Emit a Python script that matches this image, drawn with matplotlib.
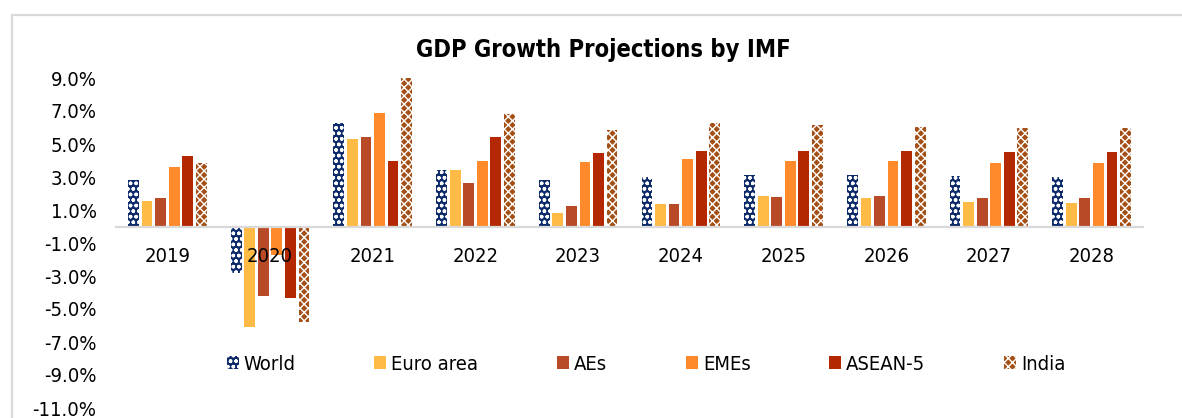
import numpy as np
import matplotlib.pyplot as plt
from matplotlib.lines import Line2D

# GDP growth (%)
years = ['2019', '2020', '2021', '2022', '2023', '2024', '2025', '2026', '2027', '2028']
world = [2.8, -2.8, 6.25, 3.4, 2.8, 3.0, 3.15, 3.15, 3.05, 3.0]
euro_area = [1.55, -6.1, 5.3, 3.45, 0.8, 1.35, 1.85, 1.7, 1.5, 1.4]
aes = [1.75, -4.2, 5.4, 2.65, 1.25, 1.35, 1.8, 1.85, 1.75, 1.75]
emes = [3.6, -1.75, 6.85, 3.95, 3.9, 4.1, 4.0, 3.95, 3.85, 3.85]
asean5 = [4.25, -4.35, 3.95, 5.45, 4.45, 4.6, 4.55, 4.55, 4.5, 4.5]
india = [3.85, -5.8, 9.0, 6.8, 5.85, 6.3, 6.15, 6.05, 5.95, 6.0]

series_names = ['World', 'Euro area', 'AEs', 'EMEs', 'ASEAN-5', 'India']
y_ticks = [-11, -9, -7, -5, -3, -1, 1, 3, 5, 7, 9]

plt.rcParams['font.family'] = ['DejaVu Sans']
plt.rcParams['font.stretch'] = 'condensed'
plt.rcParams['hatch.linewidth'] = 1.0

FS = 14.5

fig = plt.figure(figsize=(11.82, 4.18), dpi=100)
ax = fig.add_axes([116 / 1182, 10 / 418, 1027 / 1182, 346.5 / 418])

x = np.arange(len(years))
slot = 0.132
width = 0.105

# colours and fills for each series
styles = [
    dict(color='#0D2B6B', hatch='ooo'),
    dict(color='#FFBB45', hatch=None),
    dict(color='#B84A28', hatch=None),
    dict(color='#FF8A2B', hatch=None),
    dict(color='#B32800', hatch=None),
    dict(color='#A34F16', hatch='xxxx'),
]
data = [world, euro_area, aes, emes, asean5, india]

handles = []
for k, (vals, st) in enumerate(zip(data, styles)):
    bars = ax.bar(x + (k - 2.5) * slot, vals, width, color=st['color'],
                  hatch=st['hatch'], edgecolor='white', linewidth=0,
                  label=series_names[k], zorder=1)
    handles.append(bars)

ax.set_xlim(-0.5, len(years) - 0.5)
ax.set_ylim(-11, 10)
# year labels sit on top of the bars, like in the original
ax.set_axisbelow(False)

for s in ['top', 'right', 'left']:
    ax.spines[s].set_visible(False)
ax.spines['bottom'].set_position(('data', 0))
ax.spines['bottom'].set_color('#D9D9D9')
ax.spines['bottom'].set_linewidth(1.6)
ax.spines['bottom'].set_zorder(3)

ax.set_yticks(y_ticks)
ax.set_yticklabels([f'{v:.1f}%' for v in y_ticks])
ax.set_xticks(x)
ax.set_xticklabels(years)
ax.tick_params(axis='both', length=0, labelsize=FS)
ax.tick_params(axis='x', pad=15)
ax.tick_params(axis='y', pad=14)

fig.text(603 / 1182, 1 - 50 / 418, 'GDP Growth Projections by IMF',
         ha='center', va='center', fontsize=17, fontweight='bold')

fig.legend(handles, series_names, loc='center', bbox_to_anchor=(646 / 1182, 0.129),
           ncol=6, frameon=False, fontsize=FS, handlelength=0.6, handleheight=0.6,
           handletextpad=0.25, columnspacing=3.9)

# light grey chart border (left and top edges only are visible)
fig.add_artist(Line2D([12 / 1182, 12 / 1182, 1.0], [0.0, 1 - 15 / 418, 1 - 15 / 418],
                      transform=fig.transFigure, color='#D9D9D9', linewidth=1.6))

fig.savefig('out.png', dpi=100)
